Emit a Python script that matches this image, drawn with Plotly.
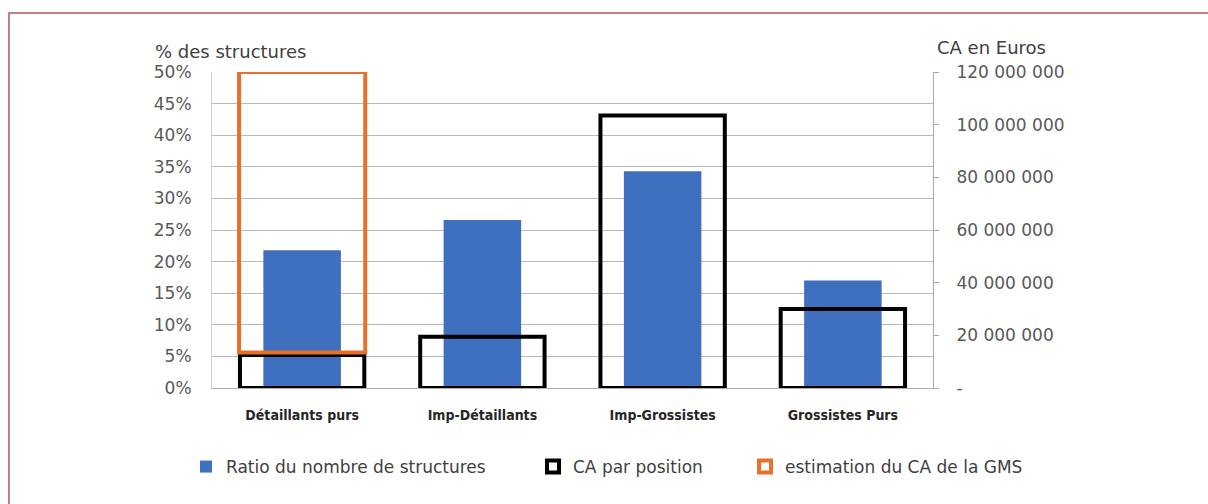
import plotly.graph_objects as go

# --- data -------------------------------------------------------------
categories = ["Détaillants purs", "Imp-Détaillants", "Imp-Grossistes", "Grossistes Purs"]
ratio_structures = [0.218, 0.266, 0.343, 0.170]            # % des structures (left axis)
ca_par_position = [12.5e6, 19.5e6, 103.5e6, 30.0e6]         # CA en Euros (right axis)
gms_category = ["Détaillants purs"]
gms_low = [13.5e6]                                          # estimation du CA de la GMS (range)
gms_high = [120.0e6]

left_ticks = [i * 0.05 for i in range(11)]
right_ticks = [i * 20e6 for i in range(7)]
right_ticktext = ["-", "20 000 000", "40 000 000", "60 000 000",
                  "80 000 000", "100 000 000", "120 000 000"]

# --- page geometry (pixels) ---------------------------------------------
W, H = 1208, 504
L, R, T, B = 212, 933, 72, 388


def px(x):
    return (x - L) / (R - L)


def py(y):
    return (B - y) / (B - T)


BLUE = "#3f6fbf"
ORANGE = "#e8702a"
TICK_FONT = dict(family="DejaVu Sans", size=17, color="#595959")

fig = go.Figure()

fig.add_trace(go.Bar(
    x=categories, y=ratio_structures, yaxis="y", width=0.43,
    marker=dict(color=BLUE, line=dict(width=0)),
    name="Ratio du nombre de structures", legend="legend",
))
fig.add_trace(go.Bar(
    x=categories, y=ca_par_position, yaxis="y2", width=0.69,
    marker=dict(color="rgba(0,0,0,0)", line=dict(color="black", width=4)),
    name="CA par position", legend="legend2",
))
fig.add_trace(go.Bar(
    x=gms_category, y=[h - l for h, l in zip(gms_high, gms_low)], base=gms_low,
    yaxis="y2", width=0.70,
    marker=dict(color="rgba(0,0,0,0)", line=dict(color=ORANGE, width=4)),
    name="estimation du CA de la GMS", legend="legend3",
))

legend_common = dict(
    orientation="h", xanchor="left", yanchor="middle",
    bgcolor="rgba(0,0,0,0)", borderwidth=0, itemwidth=30,
    font=dict(family="DejaVu Sans", size=17, color="#404040"),
)

fig.update_layout(
    width=W, height=H,
    margin=dict(l=L, r=W - R, t=T, b=H - B, pad=0),
    paper_bgcolor="white", plot_bgcolor="white",
    barmode="overlay",
    showlegend=True,
    legend=dict(x=px(186), y=py(467), **legend_common),
    legend2=dict(x=px(533), y=py(467), **legend_common),
    legend3=dict(x=px(745), y=py(467), **legend_common),
    xaxis=dict(
        showline=True, linecolor="#b0b0b0", linewidth=1,
        ticks="", showgrid=False,
        tickfont=dict(family="DejaVu Sans Condensed, DejaVu Sans, sans-serif",
                      size=14, color="#262626", weight="bold"),
        ticklabelstandoff=14,
    ),
    yaxis=dict(
        range=[0, 0.5], tickvals=left_ticks, tickformat=".0%",
        showgrid=True, gridcolor="#b8b8b8", gridwidth=1,
        showline=True, linecolor="#d0d0d0", zeroline=False,
        ticks="", tickfont=TICK_FONT, ticklabelstandoff=16,
    ),
    yaxis2=dict(
        range=[0, 120e6], tickvals=right_ticks, ticktext=right_ticktext,
        overlaying="y", side="right", showgrid=False, zeroline=False,
        showline=True, linecolor="#a6a6a6", linewidth=1,
        ticks="outside", ticklen=5, tickcolor="#a6a6a6",
        tickfont=TICK_FONT, ticklabelstandoff=14,
    ),
    annotations=[
        dict(text="% des structures", xref="paper", yref="paper",
             x=px(153), y=py(51), xanchor="left", yanchor="middle", showarrow=False,
             font=dict(family="DejaVu Sans", size=18, color="#404040")),
        dict(text="CA en Euros", xref="paper", yref="paper",
             x=px(935), y=py(47), xanchor="left", yanchor="middle", showarrow=False,
             font=dict(family="DejaVu Sans", size=18, color="#404040")),
    ],
    shapes=[
        dict(type="rect", xref="paper", yref="paper",
             x0=px(9), x1=px(1240), y0=py(540), y1=py(13),
             line=dict(color="#c97d7d", width=2), fillcolor="rgba(0,0,0,0)",
             layer="above"),
    ],
)

fig.write_html("out.html")
